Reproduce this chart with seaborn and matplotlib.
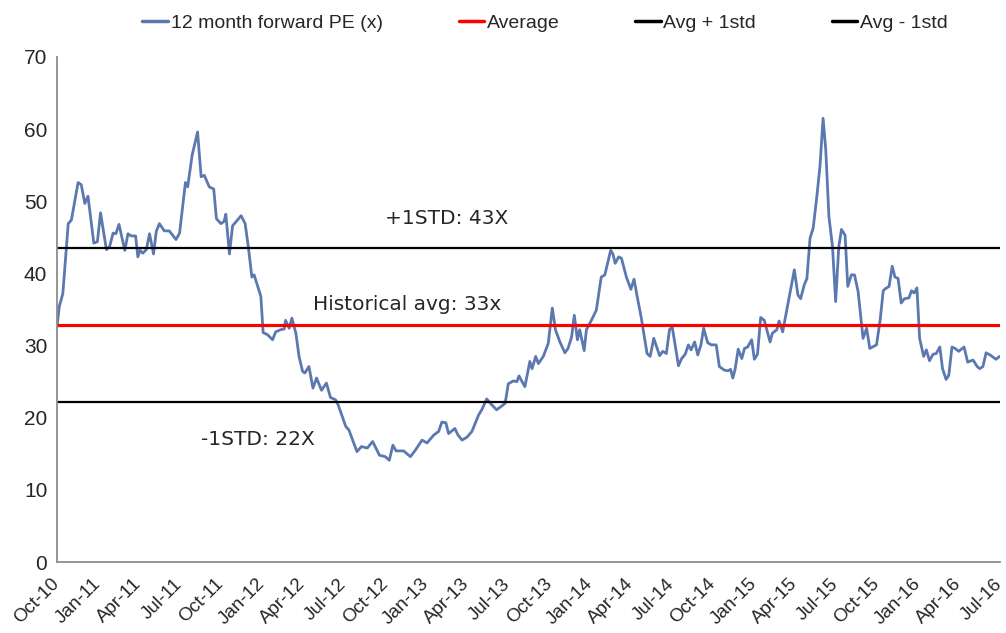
import pandas as pd
import matplotlib
matplotlib.use('Agg')
import matplotlib.pyplot as plt
import seaborn as sns

# Valores (PE 12 meses a frente)
dates = [
    '2010-10-01', '2010-10-06', '2010-10-14', '2010-10-26', '2010-11-02', '2010-11-17',
    '2010-11-24', '2010-12-02', '2010-12-09', '2010-12-22', '2010-12-30', '2011-01-06',
    '2011-01-19', '2011-01-26', '2011-02-03', '2011-02-09', '2011-02-16', '2011-03-01',
    '2011-03-08', '2011-03-15', '2011-03-25', '2011-03-30', '2011-04-04', '2011-04-10',
    '2011-04-18', '2011-04-25', '2011-05-04', '2011-05-10', '2011-05-17', '2011-05-28',
    '2011-06-08', '2011-06-23', '2011-07-01', '2011-07-14', '2011-07-19', '2011-07-29',
    '2011-08-10', '2011-08-18', '2011-08-25', '2011-09-05', '2011-09-15', '2011-09-21',
    '2011-10-01', '2011-10-08', '2011-10-12', '2011-10-20', '2011-10-27', '2011-11-15',
    '2011-11-24', '2011-12-01', '2011-12-09', '2011-12-14', '2011-12-21', '2011-12-29',
    '2012-01-03', '2012-01-13', '2012-01-24', '2012-01-31', '2012-02-11', '2012-02-19',
    '2012-02-22', '2012-03-01', '2012-03-07', '2012-03-16', '2012-03-23', '2012-03-31',
    '2012-04-05', '2012-04-14', '2012-04-23', '2012-05-01', '2012-05-12', '2012-05-23',
    '2012-06-01', '2012-06-12', '2012-06-18', '2012-07-05', '2012-07-12', '2012-07-30',
    '2012-08-09', '2012-08-22', '2012-09-03', '2012-09-18', '2012-10-01', '2012-10-10',
    '2012-10-18', '2012-10-25', '2012-11-11', '2012-11-26', '2012-12-07', '2012-12-22',
    '2013-01-02', '2013-01-17', '2013-01-28', '2013-02-04', '2013-02-13', '2013-02-19',
    '2013-03-05', '2013-03-12', '2013-03-21', '2013-04-01', '2013-04-12', '2013-04-27',
    '2013-05-04', '2013-05-15', '2013-05-26', '2013-06-06', '2013-06-17', '2013-06-25',
    '2013-07-02', '2013-07-13', '2013-07-21', '2013-07-26', '2013-07-30', '2013-08-08',
    '2013-08-19', '2013-08-24', '2013-09-01', '2013-09-07', '2013-09-18', '2013-09-29',
    '2013-10-08', '2013-10-15', '2013-10-25', '2013-11-05', '2013-11-12', '2013-11-20',
    '2013-11-26', '2013-12-03', '2013-12-08', '2013-12-18', '2013-12-23', '2014-01-03',
    '2014-01-14', '2014-01-25', '2014-02-02', '2014-02-15', '2014-02-20', '2014-02-25',
    '2014-03-05', '2014-03-11', '2014-03-22', '2014-04-01', '2014-04-08', '2014-04-15',
    '2014-04-24', '2014-05-02', '2014-05-07', '2014-05-14', '2014-05-22', '2014-06-04',
    '2014-06-11', '2014-06-19', '2014-06-26', '2014-07-02', '2014-07-16', '2014-07-23',
    '2014-07-31', '2014-08-07', '2014-08-13', '2014-08-21', '2014-08-28', '2014-09-04',
    '2014-09-10', '2014-09-19', '2014-09-27', '2014-10-08', '2014-10-15', '2014-10-26',
    '2014-11-03', '2014-11-09', '2014-11-14', '2014-11-19', '2014-11-26', '2014-12-04',
    '2014-12-10', '2014-12-17', '2014-12-26', '2015-01-01', '2015-01-08', '2015-01-15',
    '2015-01-23', '2015-02-05', '2015-02-10', '2015-02-20', '2015-02-25', '2015-03-05',
    '2015-03-19', '2015-03-31', '2015-04-08', '2015-04-14', '2015-04-22', '2015-04-28',
    '2015-05-05', '2015-05-12', '2015-05-20', '2015-05-27', '2015-06-03', '2015-06-09',
    '2015-06-16', '2015-06-24', '2015-07-01', '2015-07-08', '2015-07-14', '2015-07-22',
    '2015-07-28', '2015-08-05', '2015-08-12', '2015-08-20', '2015-08-25', '2015-08-31',
    '2015-09-08', '2015-09-15', '2015-09-30', '2015-10-08', '2015-10-15', '2015-10-20',
    '2015-10-28', '2015-11-04', '2015-11-10', '2015-11-17', '2015-11-24', '2015-12-01',
    '2015-12-11', '2015-12-17', '2015-12-23', '2015-12-29', '2016-01-04', '2016-01-13',
    '2016-01-19', '2016-01-26', '2016-02-03', '2016-02-10', '2016-02-18', '2016-02-24',
    '2016-03-03', '2016-03-09', '2016-03-16', '2016-03-23', '2016-03-31', '2016-04-12',
    '2016-04-20', '2016-05-02', '2016-05-11', '2016-05-17', '2016-05-24', '2016-05-31',
    '2016-06-09', '2016-06-22', '2016-06-30',
]
pe = [
    32.6, 35.4, 37.2, 46.9, 47.4, 52.6,
    52.3, 49.7, 50.7, 44.2, 44.4, 48.4,
    43.3, 43.7, 45.6, 45.5, 46.8, 43.2,
    45.5, 45.2, 45.2, 42.3, 43.2, 42.8,
    43.3, 45.5, 42.7, 45.8, 46.9, 45.9,
    45.9, 44.7, 45.6, 52.6, 52.0, 56.4,
    59.6, 53.4, 53.6, 52.0, 51.7, 47.6,
    46.9, 47.2, 48.2, 42.7, 46.6, 48.0,
    46.9, 43.7, 39.5, 39.8, 38.4, 36.8,
    31.8, 31.5, 30.8, 31.9, 32.2, 32.3,
    33.5, 32.4, 33.8, 31.7, 28.5, 26.4,
    26.2, 27.1, 24.1, 25.5, 23.8, 24.8,
    22.8, 22.5, 21.8, 18.8, 18.3, 15.3,
    16.0, 15.8, 16.7, 14.8, 14.6, 14.1,
    16.2, 15.4, 15.4, 14.6, 15.5, 16.9,
    16.5, 17.6, 18.1, 19.4, 19.3, 17.8,
    18.5, 17.6, 16.9, 17.3, 18.1, 20.4,
    21.1, 22.6, 21.8, 21.1, 21.6, 22.0,
    24.7, 25.1, 25.0, 25.8, 25.3, 24.3,
    27.8, 26.8, 28.5, 27.5, 28.5, 30.3,
    35.2, 32.2, 30.5, 29.0, 29.6, 31.2,
    34.2, 30.8, 32.2, 29.3, 32.2, 33.5,
    34.9, 39.5, 39.8, 43.2, 42.7, 41.4,
    42.3, 42.1, 39.5, 37.8, 39.2, 36.8,
    33.9, 30.8, 28.9, 28.5, 31.0, 28.6,
    29.2, 28.9, 32.2, 32.6, 27.2, 28.2,
    28.8, 30.1, 29.4, 30.5, 28.7, 30.1,
    32.4, 30.4, 30.1, 30.1, 27.1, 26.6,
    26.5, 26.7, 25.5, 26.7, 29.5, 28.2,
    29.6, 29.8, 30.8, 28.1, 28.8, 33.9,
    33.5, 30.5, 31.7, 32.2, 33.4, 31.9,
    36.5, 40.5, 37.0, 36.5, 38.4, 39.3,
    44.9, 46.3, 50.6, 54.8, 61.5, 57.1,
    47.9, 43.7, 36.1, 43.7, 46.1, 45.3,
    38.2, 39.8, 39.8, 37.5, 34.5, 31.0,
    32.4, 29.6, 30.1, 33.5, 37.6, 37.9,
    38.2, 41.0, 39.5, 39.3, 35.9, 36.5,
    36.6, 37.6, 37.3, 38.0, 31.0, 28.5,
    29.4, 27.9, 28.8, 28.9, 29.8, 26.8,
    25.3, 25.9, 29.8, 29.6, 29.2, 29.8,
    27.7, 28.0, 27.1, 26.8, 27.1, 29.0,
    28.7, 28.1, 28.5,
]

# Linhas de referencia
pe_avg = 32.8
pe_plus = 43.5
pe_minus = 22.2

labels = ['12 month forward PE (x)', 'Average', 'Avg + 1std', 'Avg - 1std']
notes = ['+1STD: 43X', 'Historical avg: 33x', '-1STD: 22X']

df = pd.DataFrame({'date': pd.to_datetime(dates), 'pe': pe})

sns.set_style('white')
plt.rcParams['font.family'] = ['Liberation Sans', 'DejaVu Sans']

fig = plt.figure(figsize=(10.06, 6.33), dpi=100)
ax = fig.add_axes([57 / 1006, 1 - 562 / 633, 943 / 1006, 505 / 633])

sns.lineplot(data=df, x='date', y='pe', ax=ax, color='#5b78b0', lw=2.0,
             label=labels[0])
ax.axhline(pe_avg, color='#ff0000', lw=2.3, label=labels[1])
ax.axhline(pe_plus, color='black', lw=1.6, label=labels[2])
ax.axhline(pe_minus, color='black', lw=1.6, label=labels[3])

ax.set_xlim(pd.Timestamp('2010-10-01'), pd.Timestamp('2016-07-01'))
ax.set_ylim(0, 70)
ax.set_yticks(range(0, 71, 10))
ticks = pd.date_range('2010-10-01', '2016-07-01', freq='QS-OCT')
ax.set_xticks(ticks)
ax.set_xticklabels([t.strftime('%b-%y') for t in ticks], rotation=45,
                   ha='right', va='center', rotation_mode='anchor',
                   fontsize=13.5)
ax.set_xlabel('')
ax.set_ylabel('')

for s in ['top', 'right']:
    ax.spines[s].set_visible(False)
for s in ['left', 'bottom']:
    ax.spines[s].set_color('#8c8c8c')
    ax.spines[s].set_linewidth(1.3)
ax.tick_params(axis='both', direction='out', length=5, width=1.2,
               color='#8c8c8c')
ax.tick_params(axis='x', pad=9)
ax.tick_params(axis='y', pad=2, labelsize=15)

# Anotacoes
ax.text(0.348, 0.681, notes[0], transform=ax.transAxes, va='center',
        family='DejaVu Sans', fontsize=14.5)
ax.text(0.272, 0.509, notes[1], transform=ax.transAxes, va='center',
        family='DejaVu Sans', fontsize=14.5)
ax.text(0.153, 0.242, notes[2], transform=ax.transAxes, va='center',
        family='DejaVu Sans', fontsize=14.5)

handles, labs = ax.get_legend_handles_labels()
if ax.get_legend() is not None:
    ax.get_legend().remove()
leg = fig.legend(handles, labs, loc='upper center', bbox_to_anchor=(0.542, 1.005),
                 ncol=4, frameon=False, fontsize=14, handlelength=1.3,
                 handletextpad=0.15, columnspacing=3.9)
for h in leg.get_lines():
    h.set_linewidth(2.5)

fig.savefig('out.png', dpi=100)
